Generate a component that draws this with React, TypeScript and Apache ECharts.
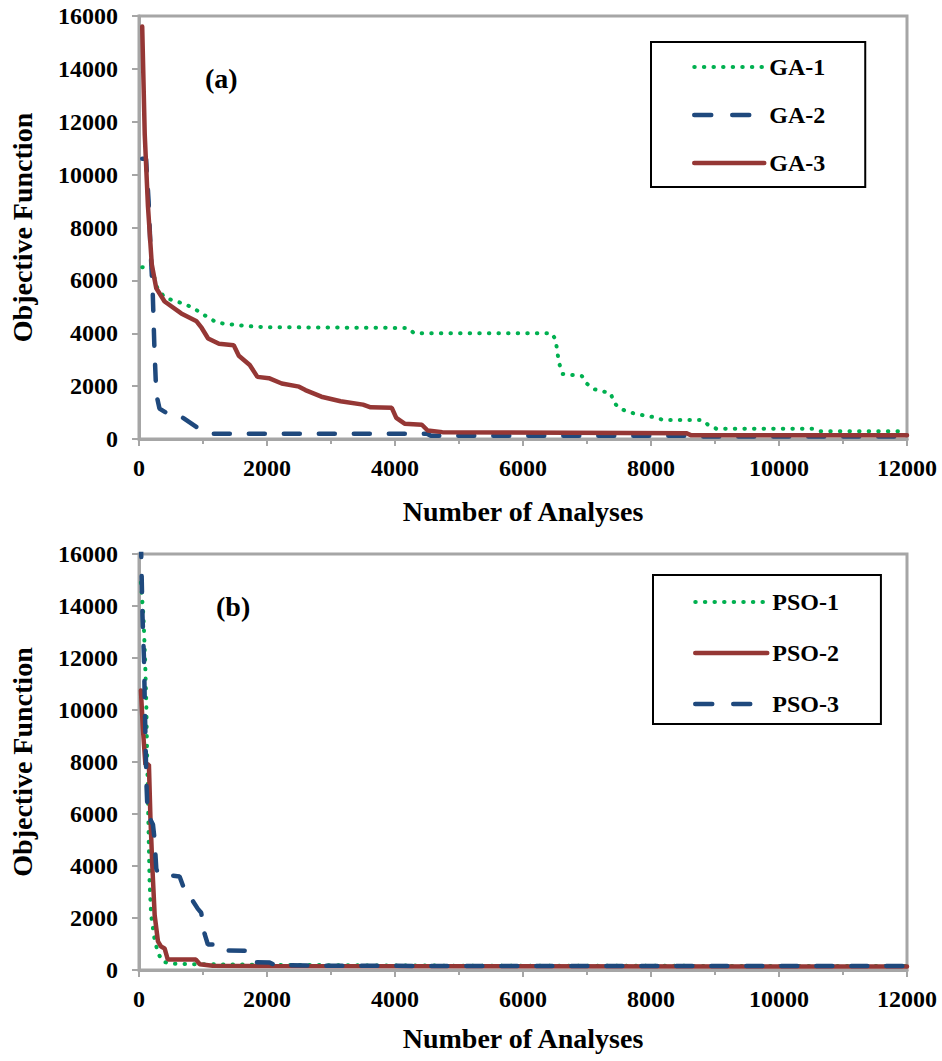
import React, { useEffect, useRef } from "react";
import * as echarts from "echarts";

// ---- data (x = number of analyses, y = objective function) ----
const X_MIN = 0;
const X_MAX = 12000;
const X_STEP = 2000;
const Y_MIN = 0;
const Y_MAX = 16000;
const Y_STEP = 2000;

const GA_NAMES = ["GA-1", "GA-2", "GA-3"];
const PSO_NAMES = ["PSO-1", "PSO-2", "PSO-3"];
const PANEL_LABELS = ["(a)", "(b)"];
const X_TITLE = "Number of Analyses";
const Y_TITLE = "Objective Function";

const GA1: number[][] = [
  [50, 6500], [200, 6450], [280, 5750], [400, 5350], [590, 5200], [720, 5100],
  [850, 4950], [980, 4750], [1090, 4580], [1220, 4400], [1370, 4350], [1650, 4280],
  [1950, 4230], [4200, 4200], [4300, 4000], [6450, 4000], [6510, 3750], [6560, 2900],
  [6620, 2460], [6920, 2380], [7000, 2090], [7100, 1890], [7370, 1730], [7420, 1390],
  [7500, 1170], [7630, 1040], [7780, 940], [8060, 820], [8190, 720], [8800, 720],
  [8900, 520], [9020, 390], [10550, 390], [10650, 290], [12000, 290],
];

const GA2: number[][] = [
  [50, 10600], [110, 10600], [150, 9000], [180, 7200], [215, 5500], [240, 3500],
  [270, 1700], [320, 1150], [420, 1000], [620, 900], [700, 780], [930, 400],
  [1030, 330], [1150, 200], [4500, 200], [4560, 120], [8600, 120], [8700, 90],
  [12000, 90],
];

const GA3: number[][] = [
  [50, 15600], [90, 11500], [140, 8800], [200, 6600], [270, 5700], [400, 5200],
  [660, 4750], [900, 4450], [980, 4200], [1080, 3800], [1250, 3600], [1480, 3550],
  [1560, 3150], [1730, 2800], [1850, 2350], [2030, 2300], [2230, 2100], [2500, 1980],
  [2600, 1850], [2850, 1600], [3150, 1430], [3500, 1300], [3620, 1200], [3950, 1180],
  [4020, 800], [4150, 580], [4420, 540], [4510, 320], [4740, 260], [8550, 220],
  [8630, 140], [12000, 140],
];

const PSO1: number[][] = [
  [30, 14900], [70, 13600], [95, 11950], [115, 10150], [125, 8500], [135, 7200],
  [145, 5900], [155, 4650], [165, 3400], [190, 2100], [245, 1150], [300, 640],
  [370, 320], [530, 240], [1000, 220], [2000, 200], [4000, 170], [12000, 150],
];

const PSO2: number[][] = [
  [30, 10750], [60, 9300], [100, 7900], [155, 7900], [178, 5900], [208, 4000],
  [245, 2100], [296, 1100], [345, 900], [400, 830], [450, 400], [890, 400],
  [950, 220], [1150, 160], [2000, 150], [12000, 130],
];

const PSO3: number[][] = [
  [30, 16500], [55, 13600], [78, 11950], [94, 9800], [109, 8000], [119, 7000],
  [135, 6000], [218, 5600], [244, 5000], [270, 3900], [296, 3700], [634, 3600],
  [686, 3250], [842, 2650], [920, 2350], [972, 2200], [1024, 1400], [1076, 980],
  [1180, 980], [1260, 750], [1660, 740], [1760, 300], [2040, 290], [2120, 190],
  [3000, 160], [12000, 150],
];

// ---- styles ----
const FONT = '"Liberation Serif", "Times New Roman", serif';
const GREEN = "#00B050";
const BLUE = "#1F497D";
const RED = "#953735";
const AXIS_GRAY = "#A6A6A6";

const dotted = { color: GREEN, width: 4, type: [0.5, 9.1], cap: "round", opacity: 1 };
const dashed = { color: BLUE, width: 4.5, type: [16, 19], cap: "round", opacity: 1 };
const legendDashed = { ...dashed, type: [17, 21] };
const solid = { color: RED, width: 4.5, type: "solid", cap: "round", opacity: 1 };

const plainNumber = (v: number) => String(v);

function lineSeries(name: string, data: number[][], style: any, idx: number) {
  return {
    name,
    type: "line",
    xAxisIndex: idx,
    yAxisIndex: idx,
    data,
    symbol: "none",
    showSymbol: false,
    clip: true,
    lineStyle: style,
    itemStyle: { color: style.color },
    emphasis: { disabled: true },
  };
}

function xAxis(idx: number, nameGap: number) {
  return {
    type: "value",
    gridIndex: idx,
    min: X_MIN,
    max: X_MAX,
    interval: X_STEP,
    name: X_TITLE,
    nameLocation: "middle",
    nameGap,
    nameTextStyle: { fontSize: 28, fontWeight: "bold", color: "#000", fontFamily: FONT },
    axisLine: { show: true, lineStyle: { color: AXIS_GRAY, width: 3 } },
    axisTick: { show: true, length: 7, lineStyle: { color: AXIS_GRAY, width: 2 } },
    minorTick: { show: true, splitNumber: 2, length: 5, lineStyle: { color: AXIS_GRAY, width: 2 } },
    splitLine: { show: false },
    axisLabel: { fontSize: 24, fontWeight: "bold", color: "#000", fontFamily: FONT, margin: 17, formatter: plainNumber },
  };
}

function yAxis(idx: number) {
  return {
    type: "value",
    gridIndex: idx,
    min: Y_MIN,
    max: Y_MAX,
    interval: Y_STEP,
    name: Y_TITLE,
    nameLocation: "middle",
    nameRotate: 90,
    nameGap: 103,
    nameTextStyle: { fontSize: 28, fontWeight: "bold", color: "#000", fontFamily: FONT },
    axisLine: { show: true, lineStyle: { color: AXIS_GRAY, width: 3 } },
    axisTick: { show: true, length: 7, lineStyle: { color: AXIS_GRAY, width: 2 } },
    splitLine: { show: false },
    axisLabel: { fontSize: 24, fontWeight: "bold", color: "#000", fontFamily: FONT, margin: 21, formatter: plainNumber },
  };
}

function legend(names: string[], styles: any[], left: number, top: number, padding: number[], gap: number, itemWidth: number) {
  return {
    data: names.map((n, i) => ({ name: n, lineStyle: styles[i] })),
    orient: "vertical",
    left,
    top,
    padding,
    itemGap: gap,
    itemWidth,
    itemHeight: 24,
    itemTextGap: 6,
    itemStyle: { opacity: 0 },
    borderColor: "#000",
    borderWidth: 2,
    backgroundColor: "#fff",
    selectedMode: false,
    textStyle: { fontSize: 24, fontWeight: "bold", color: "#000", fontFamily: FONT },
  };
}

export default function App() {
  const ref = useRef<HTMLDivElement>(null);
  useEffect(() => {
    if (!ref.current) return;
    const chart = echarts.init(ref.current, null, { renderer: "svg" });
    chart.setOption({
      animation: false,
      backgroundColor: "#fff",
      textStyle: { fontFamily: FONT },
      title: [
        { text: PANEL_LABELS[0], left: 205, top: 64, padding: 0, textStyle: { fontSize: 28, fontWeight: "bold", color: "#000", fontFamily: FONT } },
        { text: PANEL_LABELS[1], left: 216, top: 592, padding: 0, textStyle: { fontSize: 28, fontWeight: "bold", color: "#000", fontFamily: FONT } },
      ],
      grid: [
        { left: 137, top: 16, width: 770, height: 423, show: true, borderColor: AXIS_GRAY, borderWidth: 3, backgroundColor: "transparent" },
        { left: 137, top: 554, width: 770, height: 416, show: true, borderColor: AXIS_GRAY, borderWidth: 3, backgroundColor: "transparent" },
      ],
      xAxis: [xAxis(0, 58), xAxis(1, 54)],
      yAxis: [yAxis(0), yAxis(1)],
      legend: [
        legend(GA_NAMES, [dotted, legendDashed, solid], 651, 42, [13, 40, 12, 41], 24, 70),
        legend(PSO_NAMES, [dotted, solid, legendDashed], 653, 575, [15, 42, 8, 40], 27, 72),
      ],
      series: [
        lineSeries(GA_NAMES[0], GA1, dotted, 0),
        lineSeries(GA_NAMES[1], GA2, dashed, 0),
        lineSeries(GA_NAMES[2], GA3, solid, 0),
        lineSeries(PSO_NAMES[0], PSO1, dotted, 1),
        lineSeries(PSO_NAMES[1], PSO2, solid, 1),
        lineSeries(PSO_NAMES[2], PSO3, dashed, 1),
      ],
    });
    return () => chart.dispose();
  }, []);
  return (
    <div
      ref={ref}
      style={{ position: "absolute", left: 0, top: 0, width: 942, height: 1061 }}
    />
  );
}
